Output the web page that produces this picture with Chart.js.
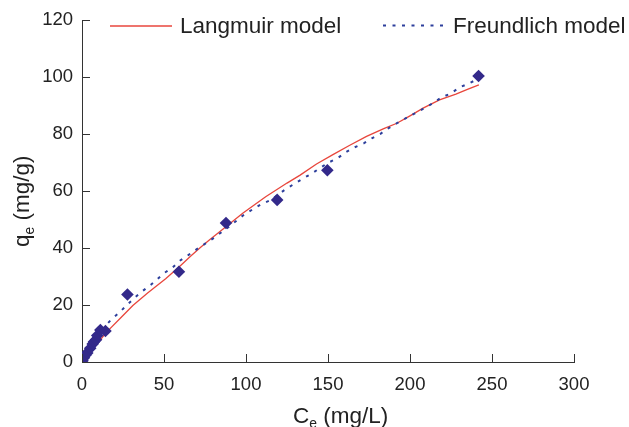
<!DOCTYPE html>
<html>
<head>
<meta charset="utf-8">
<script src="https://cdn.jsdelivr.net/npm/chart.js@4"></script>
<style>
  html, body { margin: 0; padding: 0; background: #fff; }
  #wrap { width: 629px; height: 427px; position: relative; }
</style>
</head>
<body>
<div id="wrap"><canvas id="chart"></canvas></div>
<script>
// experimental points
const expCe = [0.3, 1.2, 2.2, 3.2, 5, 6.5, 7.3, 8.6, 9.3, 11.2, 14.3, 27.7, 59.1, 87.8, 119, 149.6, 241.8];
const expQe = [0.4, 1.5, 2.5, 3.2, 4.8, 6.3, 7.1, 7.8, 9.3, 11.2, 10.9, 23.7, 31.7, 48.8, 56.9, 67.3, 100.4];

// Langmuir fit curve
const langCe = [0, 3, 7, 15, 25, 31, 40, 51, 60, 66, 72, 78, 87, 98, 112, 125, 133, 143, 153, 163, 173.5, 184, 192, 200, 208, 218, 228, 235, 242];
const langQe = [0, 2, 4.8, 10.5, 16.3, 19.8, 24.2, 29.2, 33.8, 37, 40.1, 43, 47.1, 52.2, 58, 62.8, 65.6, 69.5, 72.8, 76, 79.2, 81.9, 83.8, 86.4, 89.1, 92, 94, 95.7, 97.3];

// Freundlich fit curve
const freCe = [0, 1, 3, 6, 10, 14, 18, 23, 27, 32, 36, 42, 46, 50, 55, 59.5, 65, 70, 80, 89, 99, 109, 115, 124, 135, 140, 150, 156, 161, 166, 172, 177, 182, 187, 192, 203, 214, 219, 225, 230, 236, 242];
const freQe = [0, 2, 4, 6.5, 9.5, 12.5, 15, 17.5, 19.8, 22.5, 24.5, 27.1, 29.1, 31.2, 33, 35.5, 37.6, 39.6, 43.4, 47.2, 51.8, 55.3, 56.8, 60.6, 64.5, 66.1, 69.9, 71.6, 73.7, 75.3, 76.8, 78.6, 80.1, 82.1, 83.8, 87.3, 90.8, 92.8, 94.3, 96.3, 97.8, 99.5];

const xTicks = [0, 50, 100, 150, 200, 250, 300];
const yTicks = [0, 20, 40, 60, 80, 100, 120];

const FONT = '"Liberation Sans", Arial, Helvetica, sans-serif';
const RED = "#e8463c";
const BLUE = "#2d3f9c";
const DIAMOND = "#33298a";
const AXIS = "#333333";
const TEXT = "#222222";

const pts = (xs, ys) => xs.map((v, i) => ({ x: v, y: ys[i] }));

// text with a subscript part
function drawParts(ctx, parts, size) {
  let w = 0;
  parts.forEach(p => {
    ctx.font = `${p.sub ? size * 0.62 : size}px ${FONT}`;
    ctx.fillText(p.t, w, p.sub ? size * 0.2 : 0);
    w += ctx.measureText(p.t).width;
  });
}

const decor = {
  id: "decor",
  afterDraw(chart) {
    const { ctx, scales: { x, y }, chartArea: a } = chart;
    ctx.save();

    // inward tick marks
    ctx.strokeStyle = AXIS;
    ctx.lineWidth = 1;
    ctx.beginPath();
    xTicks.forEach(v => {
      const px = Math.round(x.getPixelForValue(v)) + 0.5;
      ctx.moveTo(px, a.bottom);
      ctx.lineTo(px, a.bottom - 8);
    });
    yTicks.forEach(v => {
      const py = Math.round(y.getPixelForValue(v)) + 0.5;
      ctx.moveTo(a.left, py);
      ctx.lineTo(a.left + 8, py);
    });
    ctx.stroke();

    // axis titles
    ctx.fillStyle = TEXT;
    ctx.textBaseline = "alphabetic";
    ctx.textAlign = "left";
    ctx.save();
    ctx.translate(293, 423);
    drawParts(ctx, [{ t: "C" }, { t: "e", sub: true }, { t: " (mg/L)" }], 22.5);
    ctx.restore();

    ctx.save();
    ctx.translate(29, 247);
    ctx.rotate(-Math.PI / 2);
    drawParts(ctx, [{ t: "q" }, { t: "e", sub: true }, { t: " (mg/g)" }], 22.5);
    ctx.restore();

    // legend
    ctx.lineWidth = 1.3;
    ctx.strokeStyle = RED;
    ctx.beginPath();
    ctx.moveTo(110, 26);
    ctx.lineTo(172, 26);
    ctx.stroke();
    ctx.lineWidth = 2;
    ctx.strokeStyle = BLUE;
    ctx.setLineDash([3, 6.5]);
    ctx.beginPath();
    ctx.moveTo(383, 25.5);
    ctx.lineTo(446, 25.5);
    ctx.stroke();
    ctx.setLineDash([]);
    ctx.font = `22.5px ${FONT}`;
    ctx.fillStyle = TEXT;
    ctx.fillText("Langmuir model", 180, 33);
    ctx.fillText("Freundlich model", 453, 33);

    ctx.restore();
  }
};

new Chart(document.getElementById("chart"), {
  type: "scatter",
  data: {
    datasets: [
      {
        label: "Experimental",
        data: pts(expCe, expQe),
        pointStyle: "rectRot",
        pointRadius: 6.3,
        backgroundColor: DIAMOND,
        borderColor: DIAMOND,
        borderWidth: 0,
        order: 0
      },
      {
        label: "Freundlich model",
        data: pts(freCe, freQe),
        showLine: true,
        pointRadius: 0,
        borderColor: BLUE,
        borderWidth: 2,
        borderDash: [3, 6.5],
        order: 1
      },
      {
        label: "Langmuir model",
        data: pts(langCe, langQe),
        showLine: true,
        pointRadius: 0,
        borderColor: RED,
        borderWidth: 1.3,
        order: 2
      }
    ]
  },
  options: {
    responsive: true,
    maintainAspectRatio: false,
    animation: false,
    layout: { padding: { top: 18, right: 55, left: 0, bottom: 0 } },
    plugins: {
      legend: { display: false },
      tooltip: { enabled: false }
    },
    scales: {
      x: {
        type: "linear",
        min: 0,
        max: 300,
        afterFit: s => { s.height = 65; },
        afterBuildTicks: s => { s.ticks = xTicks.map(v => ({ value: v })); },
        grid: { display: false, drawTicks: false },
        border: { display: true, color: AXIS, width: 1 },
        ticks: { color: TEXT, padding: 12, font: { family: FONT, size: 18.5 } }
      },
      y: {
        type: "linear",
        min: 0,
        max: 120,
        afterFit: s => { s.width = 82; },
        afterBuildTicks: s => { s.ticks = yTicks.map(v => ({ value: v })); },
        grid: { display: false, drawTicks: false },
        border: { display: true, color: AXIS, width: 1 },
        ticks: { color: TEXT, padding: 9, font: { family: FONT, size: 18.5 } }
      }
    }
  },
  plugins: [decor]
});
</script>
</body>
</html>
